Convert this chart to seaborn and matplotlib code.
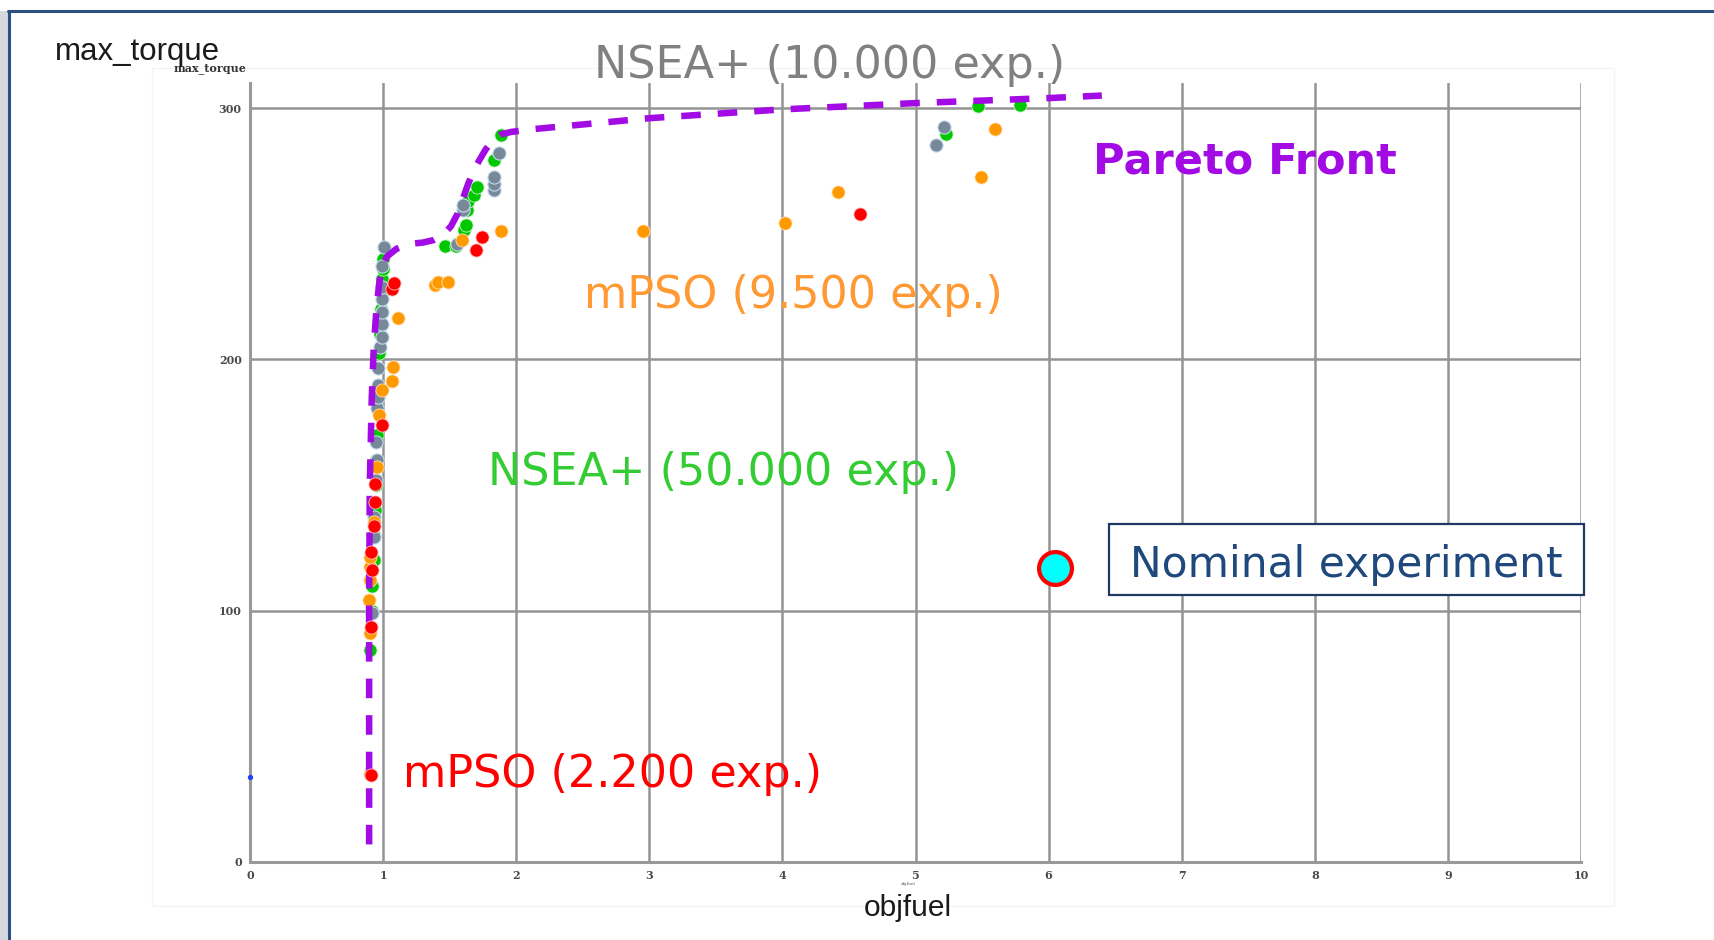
import matplotlib
matplotlib.use("Agg")
import matplotlib.pyplot as plt
from matplotlib.patches import Rectangle
from matplotlib.lines import Line2D
from matplotlib.ticker import MultipleLocator
import pandas as pd
import seaborn as sns

W, H = 1715, 940

# dashed Pareto front
front_x = [0.895, 0.895, 0.90, 0.915, 0.93, 0.95, 0.97, 0.99, 1.03, 1.10, 1.20, 1.30, 1.38,
           1.45, 1.51, 1.56, 1.60, 1.64, 1.68, 1.72, 1.77, 1.82, 1.88, 1.96, 2.10, 2.50,
           3.00, 4.00, 5.00, 6.00, 6.40]
front_y = [7, 100, 150, 185, 205, 220, 230, 237, 241, 244, 246, 246.5, 247.5,
           249.5, 253, 258, 264, 270, 275, 279, 283.5, 287, 289.5, 290.5, 291.5, 293.5,
           296, 299.5, 302, 304, 305]

# NSEA+ (50.000 exp.)
green_x = [0.905, 0.904, 0.915, 0.92, 0.93, 0.935, 0.94, 0.945, 0.95, 0.955, 0.96, 0.967,
           0.975, 0.985, 0.99, 0.99, 1.0, 1.0, 1.464, 1.545, 1.607, 1.62, 1.634, 1.64,
           1.683, 1.708, 1.834, 1.884, 5.227, 5.473, 5.785]
green_y = [35, 84.4, 100, 110, 120, 130, 140, 150, 160, 170, 185, 202.4,
           210, 220, 226, 232, 236, 240, 245.2, 245, 251.5, 253.5, 259.4, 263,
           265.4, 268.7, 279.3, 289.3, 289.7, 300.8, 301.1]

# NSEA+ (10.000 exp.)
gray_x = [0.92, 0.93, 0.93, 0.945, 0.955, 0.95, 0.955, 0.96, 0.965, 0.975, 0.96, 0.99,
          0.99, 0.99, 0.99, 0.99, 0.99, 1.005, 1.557, 1.60, 1.60, 1.83, 1.83, 1.83,
          1.87, 5.155, 5.214]
gray_y = [98.9, 129.5, 137.4, 152, 160, 167.3, 180.5, 185, 190, 205, 196.7, 209,
          214, 219, 224, 229, 237, 244.8, 246.1, 259.4, 261.4, 267.4, 270, 272.7,
          282, 285.5, 292.3]

# mPSO (9.500 exp.)
orange_x = [0.90, 0.90, 0.897, 0.90, 0.90, 0.90, 0.93, 0.955, 0.967, 0.99, 1.065, 1.078,
            1.113, 1.39, 1.41, 1.49, 1.59, 1.889, 2.956, 4.02, 4.42, 5.49, 5.60]
orange_y = [35, 91.2, 104.3, 112.2, 117.5, 121.5, 135.4, 157.3, 177.9, 187.8, 191.5, 196.8,
            216.3, 229.6, 231, 230.8, 247.6, 251, 251.2, 254.1, 266.8, 272.7, 291.5]

# mPSO (2.200 exp.)
red_x = [0.91, 0.91, 0.92, 0.91, 0.932, 0.942, 0.937, 0.99, 1.07, 1.08, 1.70, 1.746, 4.58]
red_y = [34.6, 93.6, 116.2, 123.4, 133.7, 143.4, 150.6, 174.1, 228, 230.6, 243.5, 248.7, 257.7]

nominal_x = [6.05]
nominal_y = [117]

x_ticks = list(range(0, 11))
y_ticks = [0, 100, 200, 300]

PURPLE = "#A20BE3"

sns.set_style("white")
plt.rcParams["font.family"] = ["DejaVu Sans"]

fig = plt.figure(figsize=(W / 100, H / 100), dpi=100)
fig.patch.set_facecolor("white")


def px(x, y):
    return x / W, 1 - y / H


# slide frame
fig.add_artist(Rectangle((0, 0), 8 / W, 1 - 11 / H, transform=fig.transFigure,
                         facecolor="#d5d8dc", edgecolor="none"))
fig.add_artist(Line2D([8 / W, 1], [1 - 11 / H] * 2, transform=fig.transFigure,
                      color="#2B4F81", lw=2.2))
fig.add_artist(Line2D([9 / W] * 2, [0, 1 - 11 / H], transform=fig.transFigure,
                      color="#2B4F81", lw=2.2))
fig.add_artist(Rectangle(px(152, 906), (1614 - 152) / W, (906 - 68) / H,
                         transform=fig.transFigure, facecolor="none",
                         edgecolor="#f1f5f9", lw=1))

ax = fig.add_axes([250 / W, 1 - 862 / H, (1581 - 250) / W, (862 - 83) / H])
ax.set_facecolor("none")

sns.scatterplot(x=green_x, y=green_y, color="#00C800", s=90, edgecolor="#c8f0c8",
                linewidth=0.6, ax=ax, zorder=3)
sns.scatterplot(x=gray_x, y=gray_y, color="#778899", s=90, edgecolor="#c4dcef",
                linewidth=0.8, ax=ax, zorder=3)
sns.scatterplot(x=orange_x, y=orange_y, color="#FF9900", s=90, edgecolor="#ffe2b8",
                linewidth=0.6, ax=ax, zorder=3)
sns.lineplot(x=front_x, y=front_y, sort=False, estimator=None, color=PURPLE,
             lw=4.7, ax=ax, zorder=4)
ax.lines[-1].set_dashes([3.0, 2.6])
ax.lines[-1].set_dash_capstyle("butt")
sns.scatterplot(x=red_x, y=red_y, color="#FF0000", s=90, edgecolor="#ffc0c0",
                linewidth=0.6, ax=ax, zorder=5)
ax.scatter([0], [34], s=8, color="#2040ff", zorder=5, clip_on=False)
sns.scatterplot(x=nominal_x, y=nominal_y, color="#00FFFF", s=560, edgecolor="#FF0000",
                linewidth=3.0, ax=ax, zorder=6)

ax.set_xlim(0, 10)
ax.set_ylim(0, 310)
ax.set_xticks(x_ticks)
ax.set_yticks(y_ticks)
ax.set_xticklabels([str(t) for t in x_ticks])
ax.set_yticklabels([str(t) for t in y_ticks])
ax.xaxis.set_minor_locator(MultipleLocator(0.5))
ax.yaxis.set_minor_locator(MultipleLocator(50))
ax.grid(True, which="major", color="#949494", lw=1.8)
ax.set_axisbelow(True)
for side in ["top", "right"]:
    ax.spines[side].set_visible(False)
for side in ["left", "bottom"]:
    ax.spines[side].set_color("#999999")
    ax.spines[side].set_linewidth(2.2)
ax.tick_params(which="major", length=0, pad=6, labelsize=8, labelcolor="#4a4a4a")
ax.tick_params(which="minor", length=3, width=1, color="#777777", direction="inout")
for lab in ax.get_xticklabels() + ax.get_yticklabels():
    lab.set_family("DejaVu Serif")
    lab.set_fontweight("bold")
ax.set_xlabel("")
ax.set_ylabel("")

# axis titles
fig.text(*px(55, 60), "max_torque", fontsize=22.5, family="Liberation Sans",
         color="#1a1a1a", va="baseline", ha="left")
fig.text(*px(174, 71), "max_torque", fontsize=8, family="DejaVu Serif",
         fontweight="bold", color="#333333", va="baseline", ha="left")
fig.text(*px(908, 916), "objfuel", fontsize=21.5, family="Liberation Sans",
         color="#1a1a1a", va="baseline", ha="center")
fig.text(*px(908, 885), "objfuel", fontsize=3, family="DejaVu Serif",
         color="#555555", va="baseline", ha="center")

# series annotations
fig.text(*px(594, 78), "NSEA+ (10.000 exp.)", fontsize=32, color="#808080", va="baseline")
fig.text(*px(584, 308), "mPSO (9.500 exp.)", fontsize=32, color="#FF9933", va="baseline")
fig.text(*px(488, 485), "NSEA+ (50.000 exp.)", fontsize=32, color="#33CC33", va="baseline")
fig.text(*px(403, 787), "mPSO (2.200 exp.)", fontsize=32, color="#FF0000", va="baseline")
fig.text(*px(1093, 173), "Pareto Front", fontsize=31, fontweight="bold", color=PURPLE,
         va="baseline")

fig.add_artist(Rectangle(px(1109, 595), (1584 - 1109) / W, (595 - 524) / H,
                         transform=fig.transFigure, facecolor="white",
                         edgecolor="#1F3864", lw=1.6, zorder=7))
fig.text(*px(1130, 577), "Nominal experiment", fontsize=30.5, color="#1F497D",
         va="baseline", zorder=8)

fig.savefig("out.png", dpi=100, facecolor="white")
